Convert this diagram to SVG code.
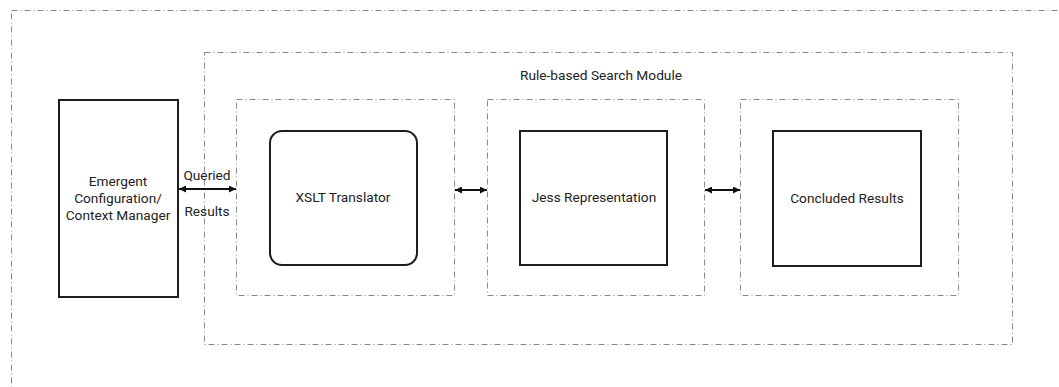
<svg xmlns="http://www.w3.org/2000/svg" width="1059" height="387" viewBox="0 0 1059 387">
<style>
.frame{fill:none;stroke:#8a8a8a;stroke-width:1;stroke-dasharray:6,3,1,3}
.box{fill:#fff;stroke:#1e1e1e;stroke-width:2}
.t{font-family:Roboto,"Liberation Sans",sans-serif;font-size:13.7px;fill:#222;text-anchor:middle}
.c{stroke:#111;stroke-width:2;fill:none;marker-start:url(#ah);marker-end:url(#ah)}
</style>
<defs>
<marker id="ah" viewBox="0 0 10 10" refX="10" refY="5" markerWidth="9" markerHeight="7" markerUnits="userSpaceOnUse" orient="auto-start-reverse">
<path d="M0,0 L10,5 L0,10 z" fill="#111"/>
</marker>
</defs>
<rect width="1059" height="387" fill="#fff"/>
<g id="outer"><rect class="frame" x="11.5" y="10.5" width="1080" height="400"/></g>
<g id="search-module">
<rect class="frame" x="204.5" y="52.5" width="808" height="292"/>
<text class="t" x="601" y="80">Rule-based Search Module</text>
</g>
<g id="context-manager">
<rect class="box" x="59" y="100" width="119" height="197"/>
<text class="t" x="118" y="186">Emergent</text>
<text class="t" x="118" y="203">Configuration/</text>
<text class="t" x="118" y="220">Context Manager</text>
</g>
<g id="xslt">
<rect class="frame" x="236.5" y="99.5" width="218" height="196"/>
<rect class="box" x="270" y="131" width="147" height="134" rx="12" ry="12"/>
<text class="t" x="343" y="202">XSLT Translator</text>
</g>
<g id="jess">
<rect class="frame" x="487.5" y="99.5" width="217" height="196"/>
<rect class="box" x="520" y="131" width="147" height="134"/>
<text class="t" x="594" y="202">Jess Representation</text>
</g>
<g id="concluded">
<rect class="frame" x="740.5" y="99.5" width="218" height="196"/>
<rect class="box" x="773" y="131" width="148" height="135"/>
<text class="t" x="847" y="203">Concluded Results</text>
</g>
<g id="connectors">
<line class="c" x1="179" y1="189" x2="236" y2="189"/>
<text class="t" x="207" y="180">Queried</text>
<text class="t" x="207" y="216">Results</text>
<line class="c" x1="455" y1="190" x2="487" y2="190"/>
<line class="c" x1="705" y1="190" x2="740" y2="190"/>
</g>
</svg>
